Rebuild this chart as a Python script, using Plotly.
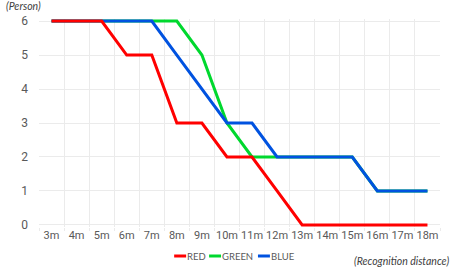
import plotly.graph_objects as go

categories = ["3m", "4m", "5m", "6m", "7m", "8m", "9m", "10m", "11m", "12m",
              "13m", "14m", "15m", "16m", "17m", "18m"]
red = [6, 6, 6, 5, 5, 3, 3, 2, 2, 1, 0, 0, 0, 0, 0, 0]
green = [6, 6, 6, 6, 6, 6, 5, 3, 2, 2, 2, 2, 2, 1, 1, 1]
blue = [6, 6, 6, 6, 6, 5, 4, 3, 3, 2, 2, 2, 2, 1, 1, 1]
y_ticks = [0, 1, 2, 3, 4, 5, 6]

series = [("RED", red, "#FF0000"), ("GREEN", green, "#00D82E"), ("BLUE", blue, "#0052E0")]

W, H = 453, 270
L, R, T, B = 38.5, 12.5, 19, 43
PW, PH = W - L - R, H - T - B

def px(x):
    return (x - L) / PW

def py(y):
    return (H - B - y) / PH

FONT = "Lato"
TXT = "#595959"

fig = go.Figure()
# draw order: green, blue, red (red on top of green), legend done manually
for name in ["GREEN", "BLUE", "RED"]:
    nm, vals, col = [s for s in series if s[0] == name][0]
    fig.add_trace(go.Scatter(x=categories, y=vals, mode="lines", name=nm,
                             line=dict(color=col, width=3), showlegend=False))

fig.update_layout(
    width=W, height=H,
    margin=dict(l=L, r=R, t=T, b=B, autoexpand=False),
    paper_bgcolor="white", plot_bgcolor="white",
    font=dict(family=FONT, size=12, color=TXT),
    xaxis=dict(type="category", range=[-0.5, len(categories) - 0.5],
               tickson="boundaries", showgrid=True, gridcolor="#EBEBEB", gridwidth=1,
               ticks="outside", ticklen=3, tickcolor="#EBEBEB", tickangle=0,
               automargin=False,
               zeroline=False, showline=False,
               tickfont=dict(family="Roboto", size=11, color=TXT)),
    yaxis=dict(range=[-0.06, 6.06], tickvals=y_ticks, showgrid=True,
               gridcolor="#EBEBEB", gridwidth=1, zeroline=False, showline=False,
               ticks="", ticklabelstandoff=10, automargin=False,
               tickfont=dict(family="Roboto", size=12, color=TXT)),
)

# axis captions
fig.add_annotation(text="<i>(Person)</i>", xref="paper", yref="paper",
                   x=px(3), y=py(6), xanchor="left", yanchor="middle",
                   showarrow=False, font=dict(size=10.5, color="#404040"))
fig.add_annotation(text="<i>(Recognition distance)</i>", xref="paper", yref="paper",
                   x=px(452), y=py(261), xanchor="right", yanchor="middle",
                   showarrow=False, font=dict(size=10.5, color="#404040"))

# manual legend
legend_pos = {"RED": (174, 186), "GREEN": (209, 221), "BLUE": (258, 270)}
ly = 256
for nm, vals, col in series:
    x0, x1 = legend_pos[nm]
    fig.add_shape(type="line", xref="paper", yref="paper",
                  x0=px(x0), x1=px(x1), y0=py(ly), y1=py(ly),
                  line=dict(color=col, width=3))
    fig.add_annotation(text=nm, xref="paper", yref="paper",
                       x=px(x1 - 1), y=py(ly), xanchor="left", yanchor="middle",
                       showarrow=False, font=dict(size=9.5, color=TXT))

fig.write_html("out.html", config={"displayModeBar": False},
               post_script="document.body.style.margin='0';")
